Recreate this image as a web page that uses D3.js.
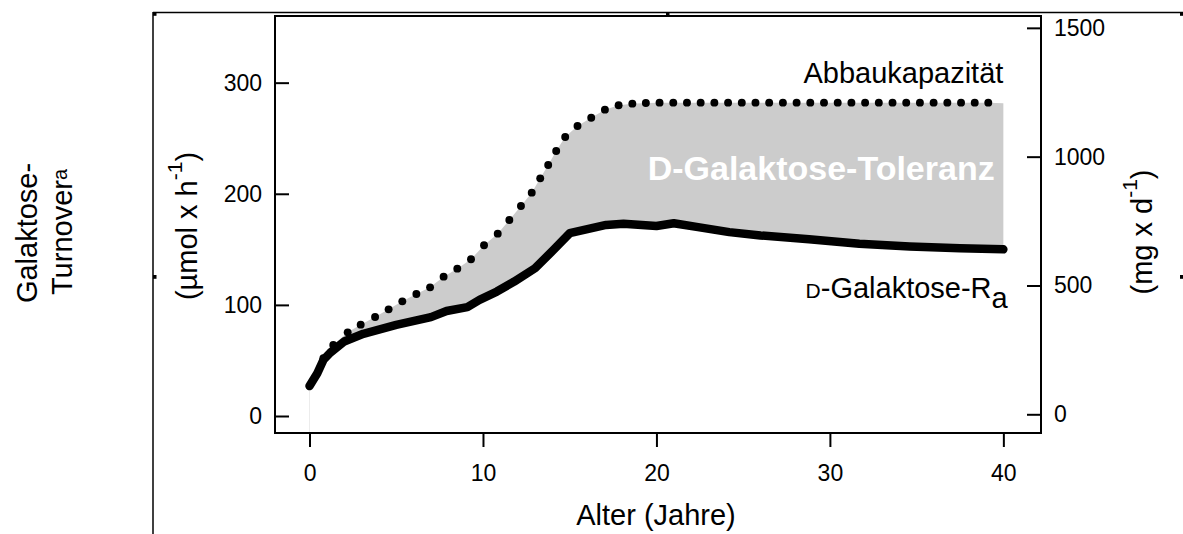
<!DOCTYPE html>
<html>
<head>
<meta charset="utf-8">
<script src="https://cdn.jsdelivr.net/npm/d3@7"></script>
<style>
  html, body { margin: 0; padding: 0; background: #fff; }
  svg { display: block; }
  text { font-family: "Liberation Sans", Arial, Helvetica, sans-serif; fill: #000; }
</style>
</head>
<body>
<svg id="chart" width="1183" height="534"></svg>
<script>
// Age axis ticks and the two value axes (left: µmol/h, right: mg/d)
const xTicks = [0, 10, 20, 30, 40];
const yTicks = [0, 100, 200, 300];
const y2Ticks = [0, 500, 1000, 1500];

// D-Galaktose-Ra (rate of appearance), µmol/h by age in years
const raAge   = [0, 0.45, 0.8, 1.2, 2, 3.1, 5, 7, 7.9, 9.1, 9.8, 10.8, 11.8, 13, 14.1, 15, 17.1, 18.1, 20, 21, 22.4, 24.2, 26, 28.8, 31.7, 34.6, 37.5, 40];
const raValue = [27, 38.5, 50.5, 57, 67, 74, 82, 89, 94.5, 98, 104.5, 112, 121, 133, 150, 164.5, 172, 173, 171, 173.5, 170, 165.5, 162.5, 159, 155, 152.5, 151, 150];

// Abbaukapazität (elimination capacity), plotted as dot markers
const capAge   = [0.8, 1.37, 2.2, 2.95, 3.78, 4.56, 5.35, 6.16, 6.95, 7.73, 8.52, 9.31, 10.06, 10.85, 11.52, 12.19, 12.81, 13.3, 13.76, 14.22, 14.74, 15.45, 16.24, 17.03, 17.82, 18.61, 19.39,
                  20.18, 20.97, 21.76, 22.55, 23.34, 24.13, 24.92, 25.71, 26.5, 27.29, 28.08, 28.87, 29.66, 30.45, 31.24, 32.03, 32.82, 33.61, 34.4, 35.19, 35.98, 36.77, 37.56, 38.35, 39.13];
const capValue = [52, 63.9, 75.3, 82.2, 89.1, 96, 103.2, 109.8, 115.8, 125.4, 132.6, 141.1, 153.7, 164.1, 176.4, 189, 201, 213.9, 225.9, 238.5, 251.1, 261, 268.4, 275.7, 279.7, 281.1, 281.7,
                  282, 282, 282, 282, 282, 282, 282, 282, 282, 282, 282, 282, 282, 282, 282, 282, 282, 282, 282, 282, 282, 282, 282, 282, 282];
const capEnd = 281.5; // capacity plateau at age 40 (right edge of the tolerance band)

const svg = d3.select("#chart");
const FONT_TICK = 23, FONT_LABEL = 29;

const x  = d3.scaleLinear().domain([-1.99, 42.17]).range([275, 1041]);
const y  = d3.scaleLinear().domain([-15.3, 360]).range([433, 16]);
const y2 = d3.scaleLinear().domain([-72.6, 1546]).range([433, 16]);

// outer frame with selection handles
const frame = svg.append("g").attr("stroke", "#000").attr("stroke-width", 1.5);
frame.append("line").attr("x1", 153).attr("y1", 12.5).attr("x2", 1183).attr("y2", 12.5);
frame.append("line").attr("x1", 153).attr("y1", 12).attr("x2", 153).attr("y2", 534);
[[153, 12], [666, 12], [1180, 12], [153, 275], [1180, 275]].forEach(([hx, hy]) => {
  svg.append("rect").attr("x", hx).attr("y", hy).attr("width", 3.5).attr("height", 3.8).attr("fill", "#000");
});

const ra  = raAge.map((a, i) => [a, raValue[i]]);
const cap = capAge.map((a, i) => [a, capValue[i]]);

// tolerance band between capacity and Ra
const band = [ra[0], ...cap, [40, capEnd], ...ra.slice().reverse()];
svg.append("path")
  .attr("d", d3.line().x(d => x(d[0])).y(d => y(d[1]))(band) + "Z")
  .attr("fill", "#cccccc");

// faint edge at age 0
svg.append("line")
  .attr("x1", x(0)).attr("x2", x(0))
  .attr("y1", y(raValue[0])).attr("y2", y.range()[0])
  .attr("stroke", "#ececec").attr("stroke-width", 1);

// capacity dots
svg.append("g").selectAll("circle").data(cap).join("circle")
  .attr("cx", d => x(d[0])).attr("cy", d => y(d[1])).attr("r", 3.95).attr("fill", "#000");

// Ra line
svg.append("path")
  .attr("d", d3.line().x(d => x(d[0])).y(d => y(d[1]))(ra))
  .attr("fill", "none").attr("stroke", "#000").attr("stroke-width", 8.5)
  .attr("stroke-linecap", "round").attr("stroke-linejoin", "round");

// axes
function styleAxis(g) {
  g.select(".domain").remove();
  g.selectAll(".tick line").attr("stroke", "#000").attr("stroke-width", 2);
  g.selectAll(".tick text").attr("font-size", FONT_TICK).attr("fill", "#000")
    .attr("font-family", "'Liberation Sans', Arial, sans-serif");
}
svg.append("g").attr("transform", "translate(0,433)")
  .call(d3.axisBottom(x).tickValues(xTicks).tickSize(14).tickPadding(18).tickFormat(d3.format("d")))
  .call(styleAxis);
svg.append("g").attr("transform", "translate(275,0)")
  .call(d3.axisLeft(y).tickValues(yTicks).tickSize(-14).tickPadding(13).tickFormat(d3.format("d")))
  .call(styleAxis);
svg.append("g").attr("transform", "translate(1041,0)")
  .call(d3.axisRight(y2).tickValues(y2Ticks).tickSize(-14).tickPadding(13).tickFormat(d3.format("d")))
  .call(styleAxis);

// plot box
svg.append("rect")
  .attr("x", 275).attr("y", 16).attr("width", 1041 - 275).attr("height", 433 - 16)
  .attr("fill", "none").attr("stroke", "#000").attr("stroke-width", 2);

// axis titles
svg.append("text").attr("x", 656).attr("y", 525).attr("text-anchor", "middle")
  .attr("font-size", FONT_LABEL).text("Alter (Jahre)");

svg.append("text").attr("transform", "translate(36.5,233) rotate(-90)").attr("text-anchor", "middle")
  .attr("font-size", FONT_LABEL).text("Galaktose-");
const tLab = svg.append("text").attr("transform", "translate(71.7,232) rotate(-90)").attr("text-anchor", "middle")
  .attr("font-size", FONT_LABEL);
tLab.append("tspan").text("Turnover");
tLab.append("tspan").attr("font-size", 20).attr("dy", -5).text("a");

function unitLabel(tx, ty, main) {
  const t = svg.append("text").attr("transform", `translate(${tx},${ty}) rotate(-90)`)
    .attr("text-anchor", "middle").attr("font-size", FONT_LABEL);
  t.append("tspan").text(main);
  t.append("tspan").attr("font-size", 21).attr("dy", -15).text("-1");
  t.append("tspan").attr("dy", 15).text(")");
}
unitLabel(197, 226, "(µmol x h");
unitLabel(1151.5, 232, "(mg x d");

// series annotations
svg.append("text").attr("x", x(40)).attr("y", y(299.5)).attr("text-anchor", "end")
  .attr("font-size", FONT_LABEL).text("Abbaukapazität");

svg.append("text").attr("x", x(39.5)).attr("y", y(212.5)).attr("text-anchor", "end")
  .attr("font-size", 34).attr("font-weight", "bold").style("fill", "#fff")
  .text("D-Galaktose-Toleranz");

const raLab = svg.append("text").attr("x", x(40.25)).attr("y", y(106)).attr("text-anchor", "end")
  .attr("font-size", FONT_LABEL);
raLab.append("tspan").attr("font-size", 21).text("D");
raLab.append("tspan").text("-Galaktose-R");
raLab.append("tspan").attr("dy", 10).text("a");
</script>
</body>
</html>
